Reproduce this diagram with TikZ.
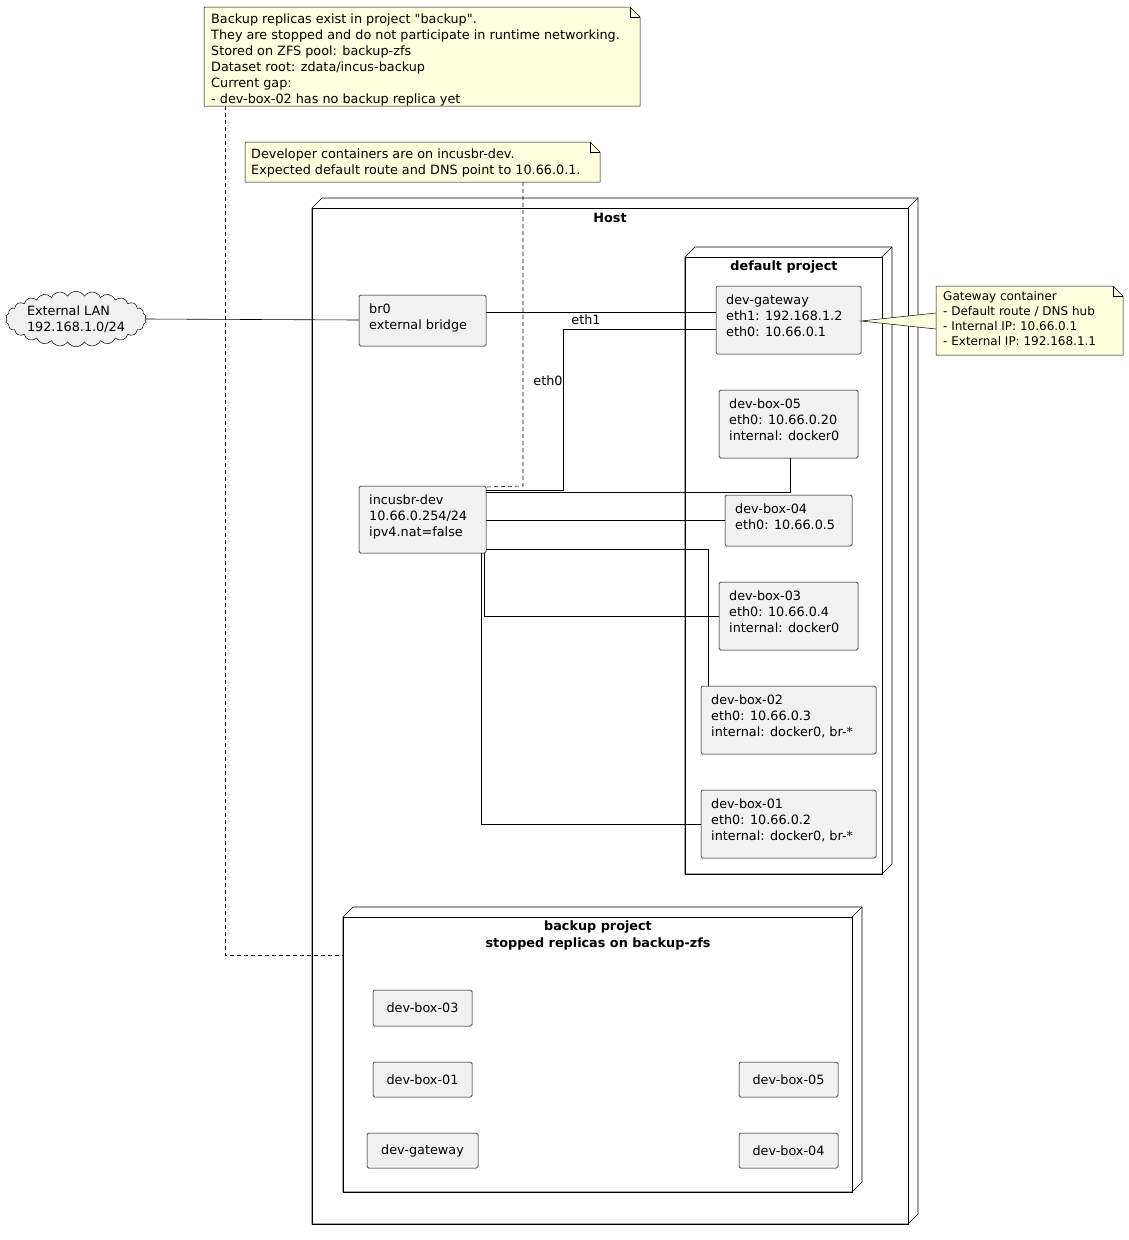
\documentclass[tikz,border=0pt]{standalone}
\usepackage{fontspec}
\setmainfont{DejaVu Sans}[Ligatures=TeXOff]
\usetikzlibrary{shapes.symbols}
\definecolor{notef}{HTML}{FEFFDD}
\definecolor{boxf}{HTML}{F1F1F1}
\begin{document}
\begin{tikzpicture}[x=1pt,y=-1pt,
  every node/.style={font=\fontsize{12.8}{16}\selectfont},
  box/.style={draw,fill=boxf,rounded corners=1.5pt,line width=0.5pt},
  lbl/.style={anchor=north west,align=left,inner sep=0pt},
  ttl/.style={anchor=north,align=center,inner sep=0pt,font=\fontsize{12.8}{17}\selectfont\bfseries},
  conn/.style={line width=0.6pt},
  dconn/.style={line width=0.6pt,dash pattern=on 4pt off 3pt},
  notebox/.style={draw,fill=notef,line width=0.5pt}]
\useasboundingbox (0,0) rectangle (1129,1240);
\newcommand{\nodebox}[5]{%
 \draw[line width=0.6pt,fill=white] (#2,#3)--(#2+10,#3-10)--(#4+10,#3-10)--(#4+10,#5-10)--(#4,#5)--(#2,#5)--cycle;
 \draw[line width=0.6pt] (#2,#3) rectangle (#4,#5);
 \draw[line width=0.6pt] (#4,#3)--(#4+10,#3-10);
 \coordinate (#1) at (#2,#3);}
\newcommand{\note}[5]{%
 \draw[notebox] (#2,#3)--(#4-10,#3)--(#4,#3+10)--(#4,#5)--(#2,#5)--cycle;
 \draw[line width=0.5pt] (#4-10,#3)--(#4-10,#3+10)--(#4,#3+10);
 \coordinate (#1) at (#2,#3);}
% Host
\nodebox{host}{312}{208}{908}{1224}
\node[ttl] (hostt) at (610,213) {Host};
\nodebox{dp}{685}{257}{882}{874}
\node[ttl] (dpt) at (784,261) {default project};
\nodebox{bp}{343}{917}{852}{1192}
\node[ttl] (bpt) at (598,921) {backup project\\stopped replicas on backup-zfs};
% notes
\note{n1}{204}{7}{640}{106}
\node[lbl] (n1t) at (211,14) {Backup replicas exist in project "backup".\\They are stopped and do not participate in runtime networking.\\Stored on ZFS pool: backup-zfs\\Dataset root: zdata/incus-backup\\Current gap:\\- dev-box-02 has no backup replica yet};
\note{n2}{245}{142}{600}{182}
\node[lbl] (n2t) at (251,149) {Developer containers are on incusbr-dev.\\Expected default route and DNS point to 10.66.0.1.};
% cloud
\node[cloud,draw,fill=boxf,cloud puffs=26,cloud puff arc=120,aspect=3,minimum width=140pt,minimum height=52pt,inner sep=0pt,align=left,line width=0.5pt] (lan) at (76,319) {External LAN\\192.168.1.0/24};
% boxes
\newcommand{\bx}[6]{\draw[box] (#2,#3) rectangle (#4,#5); \node[lbl] (#1) at (#2+10,#3+9) {#6};}
\newcommand{\sbx}[6]{\draw[box] (#2,#3) rectangle (#4,#5); \node[inner sep=0pt] (#1) at ({(#2+#4)/2},{(#3+#5)/2}) {#6};}
\bx{br0}{359}{295}{486}{346}{br0\\external bridge}
\bx{inc}{359}{486}{486}{553}{incusbr-dev\\10.66.0.254/24\\ipv4.nat=false}
\bx{gw}{716}{286}{861}{354}{dev-gateway\\eth1: 192.168.1.2\\eth0: 10.66.0.1}
\bx{d5}{719}{390}{858}{458}{dev-box-05\\eth0: 10.66.0.20\\internal: docker0}
\bx{d4}{725}{495}{852}{546}{dev-box-04\\eth0: 10.66.0.5}
\bx{d3}{719}{582}{858}{650}{dev-box-03\\eth0: 10.66.0.4\\internal: docker0}
\bx{d2}{701}{686}{876}{754}{dev-box-02\\eth0: 10.66.0.3\\internal: docker0, br-*}
\bx{d1}{701}{790}{876}{858}{dev-box-01\\eth0: 10.66.0.2\\internal: docker0, br-*}
\sbx{b3}{373}{990}{472}{1026}{dev-box-03}
\sbx{b1}{373}{1062}{472}{1097}{dev-box-01}
\sbx{bg}{367}{1133}{478}{1168}{dev-gateway}
\sbx{b5}{739}{1062}{838}{1097}{dev-box-05}
\sbx{b4}{739}{1133}{838}{1168}{dev-box-04}
% gateway note
\fill[notef] (861,321)--(936,313)--(936,329)--cycle;
\draw[line width=0.5pt] (936,313)--(861,321)--(936,329);
\note{n3}{936}{286}{1123}{355}
\node[lbl,font=\fontsize{12}{15}\selectfont] (n3t) at (943,291) {Gateway container\\- Default route / DNS hub\\- Internal IP: 10.66.0.1\\- External IP: 192.168.1.1};
% connectors
\draw[conn] (lan.east) -- (359,320);
\draw[conn] (486,312) -- (716,312);
\draw[conn] (486,490) -- (563,490) -- (563,329) -- (716,329);
\node[inner sep=0pt] (e1) at (586,320) {eth1};
\node[inner sep=0pt] (e0) at (548,381) {eth0};
\draw[conn] (486,492) -- (790,492) -- (790,458);
\draw[conn] (486,520) -- (725,520);
\draw[conn] (486,549) -- (708,549) -- (708,686);
\draw[conn] (484,553) -- (484,616) -- (719,616);
\draw[conn] (481,553) -- (481,824) -- (701,824);
\draw[dconn] (523,182) -- (523,486) -- (486,487);
\draw[dconn] (225,106) -- (225,955) -- (343,955);
\end{tikzpicture}
\end{document}
